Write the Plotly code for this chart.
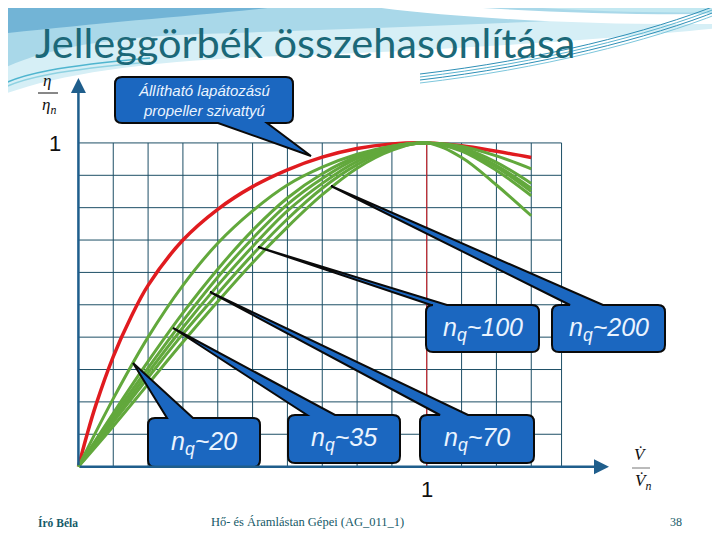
import plotly.graph_objects as go

# ---------------- data ----------------
red_x = [0, 0.025, 0.05, 0.1, 0.15, 0.2, 0.3, 0.4, 0.5, 0.6, 0.7, 0.8, 0.9, 1.0, 1.1, 1.2, 1.3]
red_y = [0, 0.10, 0.19, 0.34, 0.46, 0.56, 0.70, 0.795, 0.865, 0.917, 0.956, 0.983, 0.997, 1.0, 0.991, 0.974, 0.955]

green_x = [0, 0.1, 0.2, 0.3, 0.4, 0.5, 0.6, 0.7, 0.8, 0.9, 1.0, 1.1, 1.2, 1.3]
green_1 = [0, 0.21, 0.40, 0.56, 0.69, 0.79, 0.87, 0.925, 0.965, 0.99, 1.0, 0.99, 0.96, 0.92]
green_2 = [0, 0.165, 0.325, 0.475, 0.61, 0.73, 0.83, 0.905, 0.958, 0.99, 1.0, 0.985, 0.94, 0.875]
green_3 = [0, 0.155, 0.305, 0.45, 0.585, 0.705, 0.81, 0.89, 0.952, 0.988, 1.0, 0.98, 0.93, 0.86]
green_4 = [0, 0.145, 0.29, 0.43, 0.56, 0.68, 0.79, 0.875, 0.943, 0.985, 1.0, 0.978, 0.925, 0.85]
green_5 = [0, 0.138, 0.275, 0.41, 0.535, 0.655, 0.765, 0.86, 0.933, 0.982, 1.0, 0.975, 0.915, 0.837]
green_6 = [0, 0.125, 0.255, 0.385, 0.51, 0.63, 0.74, 0.84, 0.922, 0.977, 1.0, 0.955, 0.87, 0.775]
greens = [green_1, green_2, green_3, green_4, green_5, green_6]

grid_x = [0.1, 0.2, 0.3, 0.4, 0.5, 0.6, 0.7, 0.8, 0.9, 1.0, 1.1, 1.2, 1.3, 1.387]
grid_y = [0.1, 0.2, 0.3, 0.4, 0.5, 0.6, 0.7, 0.8, 0.9, 1.0]
grid_right = 1.387

title_text = "Jelleggörbék összehasonlítása"
callout_labels = ["Állítható lapátozású<br>propeller szivattyú",
                  "<i>n<sub>q</sub>~20</i>", "<i>n<sub>q</sub>~35</i>", "<i>n<sub>q</sub>~70</i>",
                  "<i>n<sub>q</sub>~100</i>", "<i>n<sub>q</sub>~200</i>"]

# ---------------- layout geometry ----------------
OFF = 8  # page offset of the figure (body margin)
W, H = 720, 540
ML, MT = 61 - OFF, 62 - OFF
PW, PH = 627, 437
MR, MB = W - ML - PW, H - MT - PH
XR = [-0.05, 1.75]
YR = [-0.1, 1.25]
PXU = PW / (XR[1] - XR[0])
PYU = PH / (YR[1] - YR[0])


def X(px):
    return XR[0] + (px - OFF - ML) / PXU


def Y(py):
    return YR[1] - (py - OFF - MT) / PYU


def PX(px):
    return (px - OFF - ML) / PW


def PY(py):
    return (H - MB - (py - OFF)) / PH


fig = go.Figure()

RED = "#e01b1f"
GREEN = "#62a83c"
GRID = "#1d4f66"
AXIS = "#1f5e8c"
BLUE = "#1b67c0"
TEAL = "#1b6878"

fig.add_trace(go.Scatter(x=red_x, y=red_y, mode="lines", line=dict(color=RED, width=3.5, shape="spline"),
                         hoverinfo="skip", showlegend=False))
for g in greens:
    fig.add_trace(go.Scatter(x=green_x, y=g, mode="lines", line=dict(color=GREEN, width=3, shape="spline"),
                             hoverinfo="skip", showlegend=False))

shapes = []


def ppath(d, **kw):
    return dict(type="path", xref="paper", yref="paper", layer="below", path=d, **kw)


def P(px, py):
    return f"{PX(px)},{PY(py)}"


# decorative header
shapes.append(ppath(f"M {P(0,0)} L {P(720,0)} L {P(720,28)} C {P(600,40)} {P(420,52)} {P(280,56)} "
                    f"C {P(150,60)} {P(50,75)} {P(0,96)} Z", fillcolor="#d6eff6", line=dict(width=0)))
shapes.append(ppath(f"M {P(0,0)} L {P(720,0)} L {P(720,12)} C {P(560,22)} {P(380,28)} {P(200,34)} "
                    f"C {P(100,38)} {P(40,50)} {P(0,70)} Z", fillcolor="#a9d8e9", line=dict(width=0)))
shapes.append(ppath(f"M {P(0,0)} L {P(335,0)} C {P(250,12)} {P(120,20)} {P(0,34)} Z",
                    fillcolor="#72b4d6", line=dict(width=0)))
shapes.append(ppath(f"M {P(450,0)} L {P(720,0)} L {P(720,12)} C {P(620,14)} {P(520,8)} {P(450,0)} Z",
                    fillcolor="#c2e8f1", line=dict(width=0)))
shapes.append(ppath(f"M {P(330,0)} C {P(400,14)} {P(560,26)} {P(720,24)} "
                    f"L {P(720,14)} C {P(600,16)} {P(450,8)} {P(395,0)} Z",
                    fillcolor="#ffffff", line=dict(width=0)))
for off, col in [(0, "#2e8fb6"), (3, "#5ab3cf"), (6, "#2e8fb6"), (9, "#7cc6dc")]:
    shapes.append(ppath(f"M {P(420,74+off)} C {P(540,60+off)} {P(650,32+off)} {P(720,4+off)}",
                        line=dict(color=col, width=1)))
for off, col in [(0, "#4fb5cf"), (4, "#8fd2e2")]:
    shapes.append(ppath(f"M {P(0,86+off)} C {P(20,74+off)} {P(60,66+off)} {P(150,58+off)}",
                        line=dict(color=col, width=1.5)))

# grid
for gx in grid_x:
    shapes.append(dict(type="line", xref="x", yref="y", x0=gx, x1=gx, y0=0, y1=1, layer="below",
                       line=dict(color=GRID, width=1)))
for gy in grid_y:
    shapes.append(dict(type="line", xref="x", yref="y", x0=0, x1=grid_right, y0=gy, y1=gy, layer="below",
                       line=dict(color=GRID, width=1)))
shapes.append(dict(type="line", xref="x", yref="y", x0=1, x1=1, y0=0, y1=1, layer="below",
                   line=dict(color=RED, width=1)))


def callout(box, base, tip, edge, r=7):
    x0, y0, x1, y1 = box
    rx, ry = r / PXU, r / PYU
    b1, b2 = base
    p = f"M {x0+rx},{y1} "
    if edge == "top":
        p += f"L {b1},{y1} L {tip[0]},{tip[1]} L {b2},{y1} "
    p += f"L {x1-rx},{y1} Q {x1},{y1} {x1},{y1-ry} L {x1},{y0+ry} Q {x1},{y0} {x1-rx},{y0} "
    if edge == "bottom":
        p += f"L {b2},{y0} L {tip[0]},{tip[1]} L {b1},{y0} "
    p += f"L {x0+rx},{y0} Q {x0},{y0} {x0},{y0+ry} L {x0},{y1-ry} Q {x0},{y1} {x0+rx},{y1} Z"
    return dict(type="path", xref="x", yref="y", layer="above", path=p,
                fillcolor=BLUE, line=dict(color="#0a0a0a", width=2))


callouts = [
    ((X(115), Y(123), X(293), Y(77)), (X(218), X(267)), (X(311), Y(156)), "bottom", 15),
    ((X(148), Y(467), X(260), Y(418)), (X(167), X(193)), (X(133), Y(363)), "top", 25),
    ((X(288), Y(463), X(400), Y(415)), (X(307), X(335)), (X(173), Y(328)), "top", 25),
    ((X(420), Y(463), X(534), Y(415)), (X(440), X(468)), (X(210), Y(292)), "top", 25),
    ((X(426), Y(352), X(539), Y(305)), (X(431), X(447)), (X(258), Y(247)), "top", 25),
    ((X(552), Y(352), X(665), Y(305)), (X(570), X(603)), (X(331), Y(186)), "top", 25),
]
annotations = []
for (box, base, tip, edge, fs), label in zip(callouts, callout_labels):
    shapes.append(callout(box, base, tip, edge))
    txt = f"<i>{label}</i>" if fs < 20 else label
    annotations.append(dict(x=(box[0]+box[2])/2, y=(box[1]+box[3])/2, xref="x", yref="y",
                            text=txt, showarrow=False,
                            font=dict(family="Liberation Sans", size=fs, color="#eaf4ff")))

# axes with arrows
annotations.append(dict(x=0, y=Y(78), ax=0, ay=0, xref="x", yref="y", axref="x", ayref="y",
                        showarrow=True, arrowhead=2, arrowsize=1.2, arrowwidth=2.5, arrowcolor=AXIS, text=""))
annotations.append(dict(x=X(609), y=0, ax=0, ay=0, xref="x", yref="y", axref="x", ayref="y",
                        showarrow=True, arrowhead=2, arrowsize=1.2, arrowwidth=2.5, arrowcolor=AXIS, text=""))


def ptext(px, py, text, size, color="#111", family="Liberation Sans", xanchor="center"):
    return dict(x=PX(px), y=PY(py), xref="paper", yref="paper", text=text, showarrow=False,
                xanchor=xanchor, yanchor="middle", font=dict(family=family, size=size, color=color))


FOOT = "#155a68"
annotations += [
    ptext(55, 143, "1", 22),
    ptext(427, 489, "1", 22),
    ptext(47, 81, "<i>η</i>", 17, family="Liberation Serif"),
    ptext(49, 106, "<i>η<sub>n</sub></i>", 17, family="Liberation Serif"),
    ptext(640, 454, "<i>V̇</i>", 17, family="Liberation Serif"),
    ptext(643, 482, "<i>V̇<sub>n</sub></i>", 17, family="Liberation Serif"),
    ptext(33, 42, title_text, 41.5, color=TEAL, family="Lato", xanchor="left"),
    ptext(36, 522, "<b>Író Béla</b>", 11.5, color=FOOT, family="Liberation Serif", xanchor="left"),
    ptext(209, 522, "Hő- és Áramlástan Gépei (AG_011_1)", 12.5, color=FOOT, family="Liberation Serif", xanchor="left"),
    ptext(684, 522, "38", 12, color=FOOT, family="Liberation Serif", xanchor="right"),
]
shapes.append(dict(type="line", xref="paper", yref="paper", x0=PX(38), x1=PX(58), y0=PY(93), y1=PY(93),
                   line=dict(color="#111", width=1)))
shapes.append(dict(type="line", xref="paper", yref="paper", x0=PX(632), x1=PX(650), y0=PY(468), y1=PY(468),
                   line=dict(color="#777", width=1)))

fig.update_layout(
    width=W, height=H, margin=dict(l=ML, r=MR, t=MT, b=MB),
    paper_bgcolor="white", plot_bgcolor="white",
    xaxis=dict(range=XR, visible=False, fixedrange=True),
    yaxis=dict(range=YR, visible=False, fixedrange=True),
    shapes=shapes, annotations=annotations, showlegend=False,
)
fig.write_html("out.html")
